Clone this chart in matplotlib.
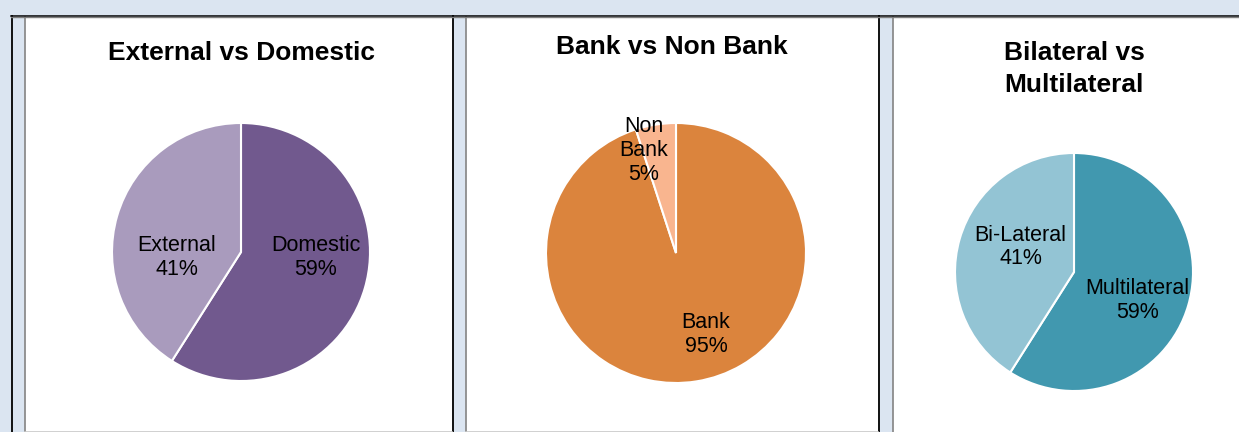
import matplotlib.pyplot as plt
from matplotlib.patches import Rectangle
from matplotlib.lines import Line2D

W, H = 1239, 432

titles = ["External vs Domestic", "Bank vs Non Bank", "Bilateral vs\nMultilateral"]
labels = [["Domestic", "External"], ["Bank", "Non\nBank"], ["Multilateral", "Bi-Lateral"]]
values = [[59, 41], [95, 5], [59, 41]]
colors = [["#71598e", "#a99bbd"], ["#db843d", "#f9b58f"], ["#4198af", "#93c4d4"]]

# pie placement in pixels: centre x, centre y, radius
pie_geom = [(241, 252, 129), (676, 253, 130), (1074, 272, 119)]
title_pos = [(241, 53), (672, 47), (1074, 69)]
# label offsets relative to pie centre, in units of radius
label_pos = [[(0.58, -0.04), (-0.50, -0.04)],
             [(0.23, -0.63), (-0.25, 0.79)],
             [(0.53, -0.24), (-0.45, 0.21)]]

fig = plt.figure(figsize=(W / 100, H / 100), dpi=100)
fig.patch.set_facecolor("#dbe5f1")
plt.rcParams['font.family'] = ['Liberation Sans', 'DejaVu Sans']


def fx(x):
    return x / W


def fy(y):
    return 1 - y / H


# white panels
panels = [(25, 452), (466, 878), (893, W)]
for x0, x1 in panels:
    fig.add_artist(Rectangle((fx(x0), 0), fx(x1 - x0), fy(17), transform=fig.transFigure,
                             facecolor="white", edgecolor="none", zorder=0))
    fig.add_artist(Line2D([fx(x0 - 0.5), fx(x0 - 0.5)], [0, fy(17)], transform=fig.transFigure,
                          color="#8c8c8c", lw=1.3))
for x in [11.5, 452.5, 878.5]:
    fig.add_artist(Line2D([fx(x), fx(x)], [0, fy(15.5)], transform=fig.transFigure,
                          color="black", lw=1.3))
fig.add_artist(Line2D([fx(11), 1], [fy(15.5), fy(15.5)], transform=fig.transFigure,
                      color="black", lw=1.1))
fig.add_artist(Line2D([fx(11), 1], [fy(16.8), fy(16.8)], transform=fig.transFigure,
                      color="#7f7f7f", lw=1.0))
for x0, x1 in panels[:2]:
    fig.add_artist(Line2D([fx(x0), fx(x1)], [fy(431.5), fy(431.5)], transform=fig.transFigure,
                          color="#c8c8c8", lw=1.2))

for i in range(3):
    cx, cy, r = pie_geom[i]
    ax = fig.add_axes([fx(cx - r), fy(cy + r), (2 * r) / W, (2 * r) / H])
    ax.pie(values[i], colors=colors[i], startangle=90, counterclock=False, radius=1,
           wedgeprops=dict(edgecolor="white", linewidth=1.5))
    ax.set_xlim(-1.0, 1.0)
    ax.set_ylim(-1.0, 1.0)
    ax.set_aspect("equal")
    ax.axis("off")
    for j in range(2):
        lx, ly = label_pos[i][j]
        ax.text(lx, ly, f"{labels[i][j]}\n{values[i][j]}%", ha="center", va="center",
                fontsize=15.5, linespacing=1.18, color="black")
    tx, ty = title_pos[i]
    fig.text(fx(tx), fy(ty), titles[i], ha="center", va="center", fontsize=19,
             fontweight="bold", linespacing=1.4)

fig.savefig("out.png", dpi=100, facecolor=fig.get_facecolor())
